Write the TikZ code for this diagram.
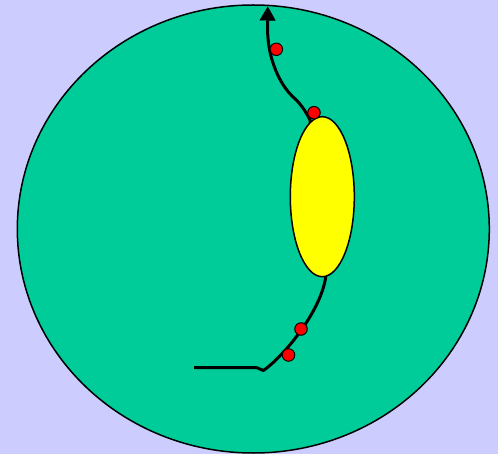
\documentclass[tikz,border=0pt]{standalone}
\usetikzlibrary{shapes.geometric,arrows.meta}
\definecolor{bgc}{HTML}{CCCCFF}
\definecolor{greenc}{HTML}{00CC99}
\definecolor{yellowc}{HTML}{FFFF00}
\definecolor{redc}{HTML}{FF0000}
\begin{document}
\begin{tikzpicture}[x=1pt,y=-1pt,
  blob/.style={ellipse,draw=black,inner sep=0pt,line width=1.5pt},
  reddot/.style={circle,fill=redc,draw=black,line width=1pt,minimum size=12.5pt,inner sep=0pt},
  wire/.style={draw=black,line width=3pt,line join=round}]
\fill[bgc] (0,0) rectangle (498,454);
\useasboundingbox (0,0) rectangle (498,454);
\node[blob,fill=greenc,minimum width=472pt,minimum height=448pt] (big) at (253.3,229) {};
\coordinate (s) at (194,367.5);
\coordinate (k) at (255,367.5);
\coordinate (t) at (267.8,6.5);
\draw[wire,-{Triangle[length=14pt,width=16pt,line width=0.5pt]}] (s) -- (k)
  .. controls (259,367.5) and (261,370.5) .. (263.5,370.5)
  .. controls (285,355) and (322,310) .. (326,275)
  -- (310,120)
  .. controls (305,110) and (300,103) .. (292,96)
  .. controls (282,86) and (274,70) .. (270,52)
  .. controls (267,38) and (267.5,25) .. (t);
\node[blob,fill=yellowc,minimum width=64pt,minimum height=160pt] (yel) at (322.3,196.7) {};
\node[reddot] (d1) at (288.5,355) {};
\node[reddot] (d2) at (301,329) {};
\node[reddot] (d3) at (314,112.7) {};
\node[reddot] (d4) at (276.3,49.3) {};
\end{tikzpicture}
\end{document}
